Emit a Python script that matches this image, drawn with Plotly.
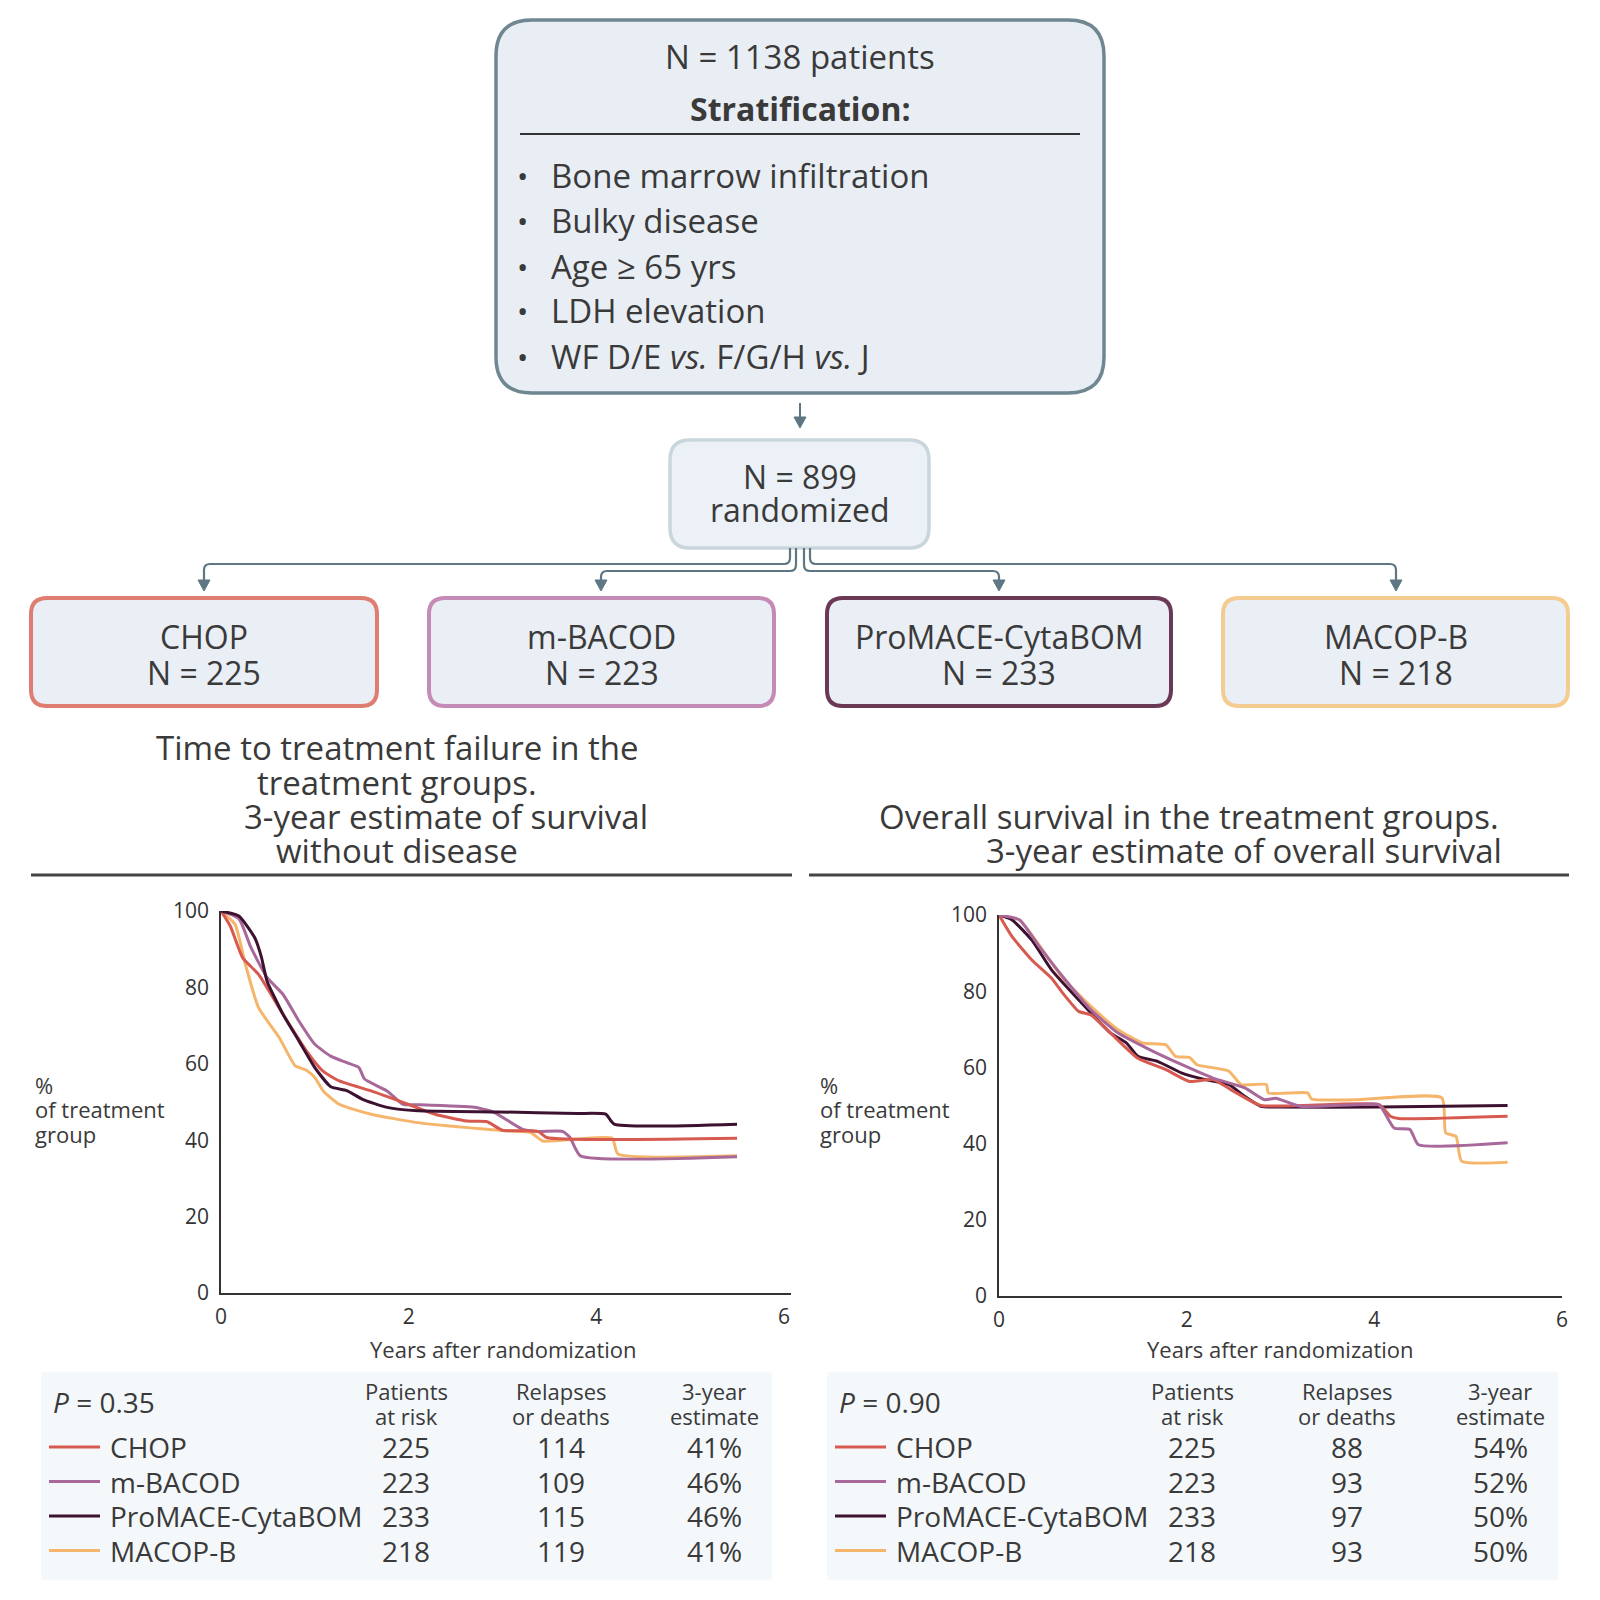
import plotly.graph_objects as go

# ---------------- DATA ----------------
groups = ["CHOP", "m-BACOD", "ProMACE-CytaBOM", "MACOP-B"]
group_n = [225, 223, 233, 218]
colors = ["#d75a50", "#a8689a", "#3d1230", "#f5b66c"]
box_border = ["#e07d72", "#c48bb7", "#6b3956", "#f4cc90"]

strat_items = ["Bone marrow infiltration", "Bulky disease", "Age ≥ 65 yrs",
               "LDH elevation", "WF D/E <i>vs.</i> F/G/H <i>vs.</i> J"]

x_ticks = [0, 2, 4, 6]
y_ticks = [0, 20, 40, 60, 80, 100]

# Time to treatment failure curves (years, % of group)
ttf_chop_t = [0, 0.1, 0.23, 0.4, 0.66, 0.91, 1.09, 1.26, 1.6, 1.94, 2.28, 2.62, 2.83, 3.0, 3.38, 3.47, 5.5]
ttf_chop_s = [100, 96, 87.8, 83.4, 73, 63.4, 58, 55.5, 52.9, 49.9, 46.8, 45, 44.9, 42.6, 42.3, 40.7, 40.5]
ttf_mbacod_t = [0, 0.19, 0.32, 0.49, 0.66, 0.83, 1.0, 1.17, 1.34, 1.47, 1.53, 1.77, 1.94, 2.1, 2.7, 2.91, 3.21, 3.38, 3.64, 3.72, 3.83, 5.5]
ttf_mbacod_s = [100, 98, 90.4, 82.6, 78.2, 71.2, 65.1, 62, 60.3, 59, 56, 52.9, 49.4, 49.3, 48.6, 47.3, 42.9, 42.3, 42.3, 40.7, 35.9, 35.7]
ttf_promace_t = [0, 0.19, 0.36, 0.43, 0.49, 0.66, 0.83, 1.0, 1.17, 1.34, 1.51, 1.77, 2.1, 2.96, 3.8, 4.1, 4.19, 5.5]
ttf_promace_s = [100, 98.7, 93, 88, 81.7, 73, 66, 59, 54, 53, 50.7, 48.6, 47.7, 47.4, 47, 46.8, 44.2, 44.2]
ttf_macopb_t = [0, 0.15, 0.26, 0.4, 0.62, 0.79, 0.91, 1.0, 1.09, 1.26, 1.6, 2.1, 2.96, 3.3, 3.43, 3.81, 4.17, 4.23, 5.5]
ttf_macopb_s = [100, 96.5, 86, 74.7, 66.9, 59.5, 58.3, 56.4, 52.9, 49.4, 46.8, 44.6, 42.6, 42, 39.8, 40.3, 40.5, 36.4, 35.9]

# Overall survival curves
os_chop_t = [0, 0.14, 0.35, 0.56, 0.68, 0.85, 0.98, 1.19, 1.48, 1.78, 2.03, 2.28, 2.53, 2.79, 4.05, 4.17, 4.26, 5.42]
os_chop_s = [100, 94.3, 88.2, 83.4, 79.5, 74.7, 73.8, 69, 62.4, 59.4, 56.3, 56.8, 53.3, 50, 50.2, 47.2, 46.6, 47.2]
os_mbacod_t = [0, 0.22, 0.43, 0.68, 0.98, 1.27, 1.61, 1.95, 2.28, 2.62, 2.83, 2.95, 3.21, 3.79, 4.05, 4.21, 4.38, 4.47, 5.42]
os_mbacod_s = [100, 98.7, 91.7, 83.8, 75.1, 69, 64.6, 60.7, 57.2, 54.6, 51.5, 51.9, 49.8, 50.2, 50.2, 44.1, 43.7, 39.7, 40.2]
os_promace_t = [0, 0.14, 0.35, 0.56, 0.85, 1.19, 1.36, 1.48, 1.69, 1.95, 2.2, 2.45, 2.62, 2.79, 2.95, 4.05, 5.42]
os_promace_s = [100, 98.7, 93.4, 85.6, 77.7, 69, 66.4, 62.9, 61.6, 58.5, 56.8, 55.5, 52.4, 49.8, 49.6, 49.6, 50]
os_macopb_t = [0, 0.22, 0.39, 0.68, 0.98, 1.27, 1.53, 1.78, 1.88, 2.03, 2.11, 2.45, 2.58, 2.85, 2.87, 3.29, 3.33, 3.79, 4.72, 4.76, 4.87, 4.93, 5.42]
os_macopb_s = [100, 98.7, 93.4, 83.4, 76, 69.9, 66.4, 65.9, 62.9, 62.6, 60.7, 59, 55.5, 55.5, 53.3, 53.3, 51.7, 51.5, 52, 42.8, 41.9, 35.4, 35.1]

# Tables
ttf_p = "0.35"
ttf_at_risk = [225, 223, 233, 218]
ttf_events = [114, 109, 115, 119]
ttf_estimate = ["41%", "46%", "46%", "41%"]
os_p = "0.90"
os_at_risk = [225, 223, 233, 218]
os_events = [88, 93, 97, 93]
os_estimate = ["54%", "52%", "50%", "50%"]

# ---------------- LAYOUT HELPERS ----------------
W = H = 1600
OFF = 8  # page body margin
FONT = "Open Sans"
TXT = "#3a3a3a"
SLATE = "#5f7784"


def X(v):
    return (v - OFF) / W


def Y(v):
    return 1 - (v - OFF) / H


def P(x, y):
    return f"{X(x):.5f},{Y(y):.5f}"


def rrect_path(x0, y0, x1, y1, r):
    return (f"M {P(x0 + r, y0)} L {P(x1 - r, y0)} Q {P(x1, y0)} {P(x1, y0 + r)} "
            f"L {P(x1, y1 - r)} Q {P(x1, y1)} {P(x1 - r, y1)} L {P(x0 + r, y1)} "
            f"Q {P(x0, y1)} {P(x0, y1 - r)} L {P(x0, y0 + r)} Q {P(x0, y0)} {P(x0 + r, y0)} Z")


shapes = []
annotations = []


def rbox(x0, y0, x1, y1, r, fill, line, lw):
    shapes.append(dict(type="path", xref="paper", yref="paper", path=rrect_path(x0, y0, x1, y1, r),
                       fillcolor=fill, line=dict(color=line, width=lw), layer="below"))


def text(x, y, s, size, anchor="center", color=TXT, bold=False):
    annotations.append(dict(x=X(x), y=Y(y), xref="paper", yref="paper", text=s, showarrow=False,
                            xanchor=anchor, yanchor="middle",
                            font=dict(family=FONT, size=size, color=color,
                                      weight="bold" if bold else "normal")))


def hline(x0, x1, y, color, width):
    shapes.append(dict(type="line", xref="paper", yref="paper", x0=X(x0), x1=X(x1), y0=Y(y), y1=Y(y),
                       line=dict(color=color, width=width)))


def arrowhead(x, ytip):
    shapes.append(dict(type="path", xref="paper", yref="paper",
                       path=f"M {P(x - 6, ytip - 11)} L {P(x + 6, ytip - 11)} L {P(x, ytip)} Z",
                       fillcolor=SLATE, line=dict(color=SLATE, width=1)))


# ---------------- FLOWCHART ----------------
rbox(496, 20, 1104, 393, 36, "#e9eef5", "#6f8791", 3.5)
text(800, 56, "N = 1138 patients", 33)
text(800, 108, "Stratification:", 32, bold=True)
hline(520, 1080, 134, "#333333", 2)
for i, item in enumerate(strat_items):
    yy = 176 + i * 45
    text(522, yy, "•", 30, anchor="center")
    text(549, yy, item, 33, anchor="left")

shapes.append(dict(type="line", xref="paper", yref="paper", x0=X(800), x1=X(800), y0=Y(403), y1=Y(420),
                   line=dict(color=SLATE, width=2)))
arrowhead(800, 428)

rbox(670, 440, 929, 548, 20, "#ebf1f6", "#c9d7dc", 3.5)
text(800, 476, "N = 899", 32)
text(800, 510, "randomized", 32)

# connectors
centers = [204, 601, 999, 1396]
stems = [790, 796, 804, 810]
levels = [564, 571, 571, 564]
r = 6
for cx, sx, ly in zip(centers, stems, levels):
    d = -1 if cx < sx else 1
    path = (f"M {P(sx, 548)} L {P(sx, ly - r)} Q {P(sx, ly)} {P(sx + d * r, ly)} "
            f"L {P(cx - d * r, ly)} Q {P(cx, ly)} {P(cx, ly + r)} L {P(cx, 582)}")
    shapes.append(dict(type="path", xref="paper", yref="paper", path=path,
                       line=dict(color=SLATE, width=2.2)))
    arrowhead(cx, 591)

box_x = [(31, 377), (429, 774), (827, 1171), (1223, 1568)]
for (x0, x1), name, n, bc in zip(box_x, groups, group_n, box_border):
    rbox(x0, 598, x1, 706, 16, "#eaeef5", bc, 4)
    cx = (x0 + x1) / 2
    text(cx, 637, name, 32)
    text(cx, 672, f"N = {n}", 32)

# ---------------- PANEL TITLES ----------------
text(397, 747, "Time to treatment failure in the", 33)
text(397, 782, "treatment groups.", 33)
text(446, 816, "3-year estimate of survival", 33)
text(397, 850, "without disease", 33)
text(1189, 816, "Overall survival in the treatment groups.", 33)
text(1244, 850, "3-year estimate of overall survival", 33)
hline(31, 792, 875, "#444444", 3)
hline(809, 1569, 875, "#444444", 3)

# axis side labels
for bx, ax_cx in [(33, 503), (818, 1280)]:
    text(bx, 1085, "%", 22, anchor="left")
    text(bx, 1109, "of treatment", 22, anchor="left")
    text(bx, 1134, "group", 22, anchor="left")
    text(ax_cx, 1349, "Years after randomization", 22)

# ---------------- TABLES ----------------
def table(x_off, p, at_risk, events, est):
    rbox(41 + x_off, 1372, 772 + x_off, 1580, 4, "#f4f8fb", "#f4f8fb", 0.5)
    text(51 + x_off, 1402, f"<i>P</i> = {p}", 28, anchor="left")
    cols = [406 + x_off, 561 + x_off, 714 + x_off]
    heads = [("Patients", "at risk"), ("Relapses", "or deaths"), ("3-year", "estimate")]
    for cx, (h1, h2) in zip(cols, heads):
        text(cx, 1391, h1, 22)
        text(cx, 1416, h2, 22)
    for i in range(4):
        yy = 1447 + i * 34.5
        shapes.append(dict(type="line", xref="paper", yref="paper", x0=X(49 + x_off), x1=X(100 + x_off),
                           y0=Y(yy), y1=Y(yy), line=dict(color=colors[i], width=3)))
        text(108 + x_off, yy, groups[i], 28, anchor="left")
        text(cols[0], yy, str(at_risk[i]), 28)
        text(cols[1], yy, str(events[i]), 28)
        text(cols[2], yy, est[i], 28)


table(0, ttf_p, ttf_at_risk, ttf_events, ttf_estimate)
table(786, os_p, os_at_risk, os_events, os_estimate)

# ---------------- CURVES ----------------
fig = go.Figure()
ttf = [(ttf_macopb_t, ttf_macopb_s, 3), (ttf_mbacod_t, ttf_mbacod_s, 1),
       (ttf_chop_t, ttf_chop_s, 0), (ttf_promace_t, ttf_promace_s, 2)]
ovs = [(os_macopb_t, os_macopb_s, 3), (os_promace_t, os_promace_s, 2),
       (os_chop_t, os_chop_s, 0), (os_mbacod_t, os_mbacod_s, 1)]
for t, s, k in ttf:
    fig.add_trace(go.Scatter(x=t, y=s, mode="lines", xaxis="x", yaxis="y", name=groups[k],
                             line=dict(color=colors[k], width=3, shape="spline", smoothing=0.5),
                             showlegend=False))
for t, s, k in ovs:
    fig.add_trace(go.Scatter(x=t, y=s, mode="lines", xaxis="x2", yaxis="y2", name=groups[k],
                             line=dict(color=colors[k], width=3, shape="spline", smoothing=0.5),
                             showlegend=False))

axis_common = dict(showline=True, linecolor="#333333", linewidth=1.6, showgrid=False, zeroline=False,
                   ticks="", tickfont=dict(family=FONT, size=21, color="#333333"), fixedrange=True,
                   automargin=False)

fig.update_layout(
    width=W, height=H, margin=dict(l=0, r=0, t=0, b=0, pad=0, autoexpand=False),
    paper_bgcolor="white", plot_bgcolor="rgba(0,0,0,0)",
    xaxis=dict(domain=[X(221), X(791)], range=[0, 6.075], tickvals=x_ticks, anchor="y",
               ticklabelstandoff=4, **axis_common),
    yaxis=dict(domain=[Y(1293), Y(911)], range=[0, 100], tickvals=y_ticks, anchor="x",
               ticklabelstandoff=6, **axis_common),
    xaxis2=dict(domain=[X(999), X(1562)], range=[0, 6.0], tickvals=x_ticks, anchor="y2",
                ticklabelstandoff=4, **axis_common),
    yaxis2=dict(domain=[Y(1296), Y(915)], range=[0, 100], tickvals=y_ticks, anchor="x2",
                ticklabelstandoff=6, **axis_common),
    shapes=shapes, annotations=annotations,
)

fig.write_html("out.html")
